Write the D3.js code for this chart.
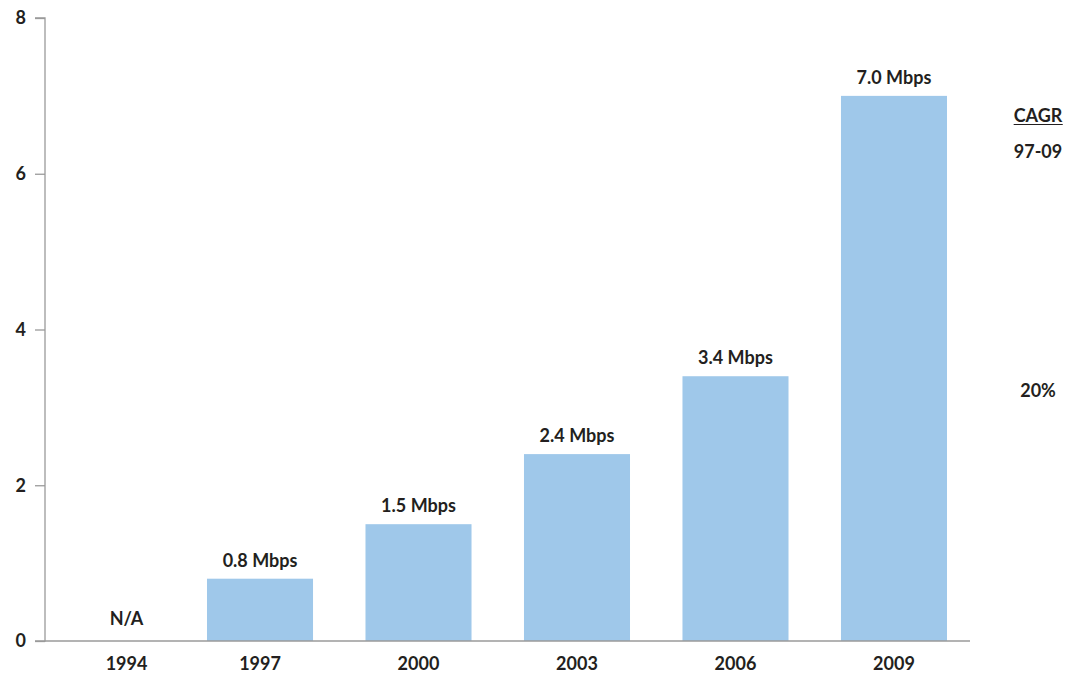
<!DOCTYPE html>
<html>
<head>
<meta charset="utf-8">
<script src="https://cdn.jsdelivr.net/npm/d3@7"></script>
<style>
  html, body { margin: 0; padding: 0; background: #fff; }
  svg text { font-family: "Lato", "Open Sans", sans-serif; font-weight: 700; fill: #231f20; }
</style>
</head>
<body>
<svg id="chart" width="1086" height="675"></svg>
<script>
// Average broadband speed by year (Mbps)
const years = ["1994", "1997", "2000", "2003", "2006", "2009"];
const speeds = [null, 0.8, 1.5, 2.4, 3.4, 7.0];
const speedLabels = ["N/A", "0.8 Mbps", "1.5 Mbps", "2.4 Mbps", "3.4 Mbps", "7.0 Mbps"];
const yTicks = [0, 2, 4, 6, 8];
const cagrTitle = "CAGR";
const cagrPeriod = "97-09";
const cagrValue = "20%";

const svg = d3.select("#chart");
const fontSize = "18px";

const x = d3.scaleBand().domain(years).range([48.5, 947]).paddingInner(0.331).paddingOuter(0);
const y = d3.scaleLinear().domain([0, 8]).range([641, 18]);

const axisColor = "#9a9a9a";

// The first year has no bar, so its labels sit a little toward the plot
const labelX = d => x(d) + x.bandwidth() / 2 + (d === years[0] ? 25 : 0);

// Y axis
const yAxis = svg.append("g")
  .attr("transform", "translate(45,0)")
  .call(d3.axisLeft(y).tickValues(yTicks).tickSize(10).tickPadding(9).tickFormat(d3.format("d")));
yAxis.select(".domain").attr("stroke", axisColor).attr("stroke-width", 1.3).attr("d", `M-10,${y(8)}H0V${y(0)}H-10`);
yAxis.selectAll(".tick line").attr("stroke", axisColor).attr("stroke-width", 1.3);
yAxis.selectAll(".tick text").style("font-size", fontSize).attr("fill", "#231f20")
  .style("font-family", "Lato, sans-serif").style("font-weight", 700);

// Bars
const data = years.map((yr, i) => ({ year: yr, value: speeds[i], label: speedLabels[i] }));

svg.append("g").selectAll("rect")
  .data(data.filter(d => d.value != null))
  .join("rect")
  .attr("x", d => x(d.year))
  .attr("y", d => y(d.value))
  .attr("width", x.bandwidth())
  .attr("height", d => y(0) - y(d.value))
  .attr("fill", "#9fc8ea");

// X axis baseline
svg.append("line")
  .attr("x1", 45).attr("x2", 970)
  .attr("y1", y(0)).attr("y2", y(0))
  .attr("stroke", axisColor).attr("stroke-width", 1.3);

// Year labels
svg.append("g").selectAll("text")
  .data(years)
  .join("text")
  .attr("x", labelX)
  .attr("y", 670)
  .attr("text-anchor", "middle")
  .style("font-size", fontSize)
  .text(d => d);

// Value labels
svg.append("g").selectAll("text")
  .data(data)
  .join("text")
  .attr("x", d => labelX(d.year))
  .attr("y", d => d.value == null ? 625 : y(d.value) - 12)
  .attr("text-anchor", "middle")
  .style("font-size", fontSize)
  .text(d => d.label);

// CAGR annotation
const cagr = svg.append("g").attr("transform", "translate(1038,0)");
const title = cagr.append("text")
  .attr("y", 122).attr("text-anchor", "middle")
  .style("font-size", fontSize).text(cagrTitle);
const tb = title.node().getBBox();
cagr.append("line")
  .attr("x1", tb.x).attr("x2", tb.x + tb.width)
  .attr("y1", 124.5).attr("y2", 124.5)
  .attr("stroke", "#231f20").attr("stroke-width", 1.2);
cagr.append("text")
  .attr("y", 158).attr("text-anchor", "middle")
  .style("font-size", fontSize).text(cagrPeriod);
cagr.append("text")
  .attr("y", 397).attr("text-anchor", "middle")
  .style("font-size", fontSize).text(cagrValue);
</script>
</body>
</html>
